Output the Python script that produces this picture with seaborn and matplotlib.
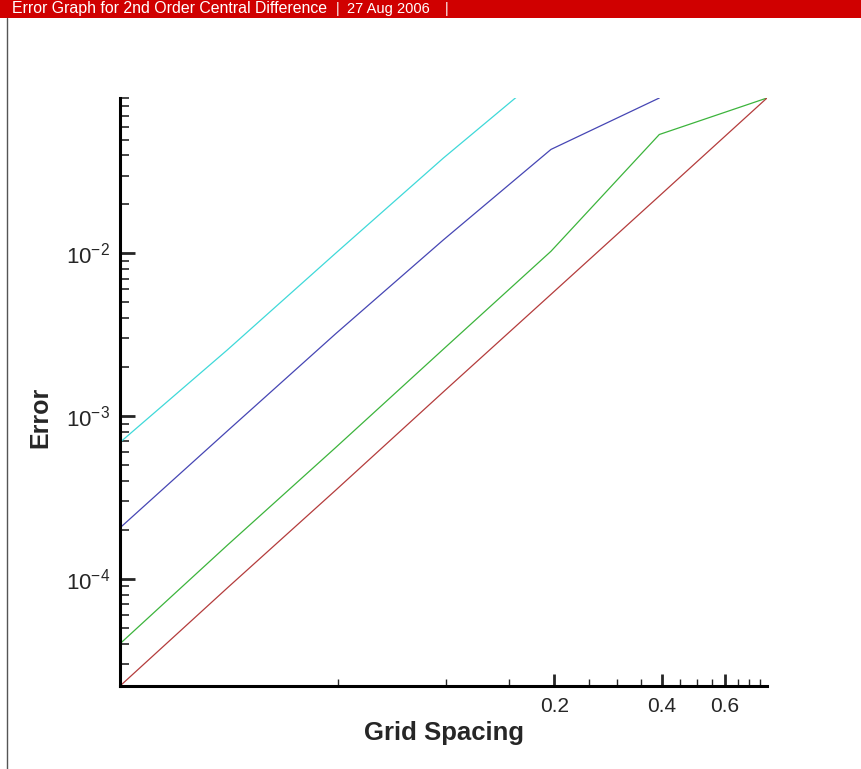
import matplotlib
matplotlib.use("Agg")
import matplotlib.pyplot as plt
import matplotlib.ticker as mticker
from matplotlib.lines import Line2D
from matplotlib.patches import Rectangle
import pandas as pd
import seaborn as sns

# Grid spacing (h) and error values
grid_spacing = [0.0123, 0.0245, 0.0491, 0.0982, 0.196, 0.393, 0.785]
err_red = [2.2e-5, 8.8e-5, 3.5e-4, 1.41e-3, 5.6e-3, 2.25e-2, 9.0e-2]
err_green = [4.0e-5, 1.61e-4, 6.4e-4, 2.58e-3, 1.03e-2, 5.37e-2, 9.0e-2]
err_blue = [2.06e-4, 8.1e-4, 3.2e-3, 1.21e-2, 4.35e-2, 9.0e-2]
err_cyan = [6.9e-4, 2.55e-3, 1.0e-2, 3.85e-2, 1.37e-1]

series = {
    "cyan": (err_cyan, "#3fd9d9"),
    "blue": (err_blue, "#4646b4"),
    "green": (err_green, "#3cb43c"),
    "red": (err_red, "#b43c3c"),
}

x_major = [0.2, 0.4, 0.6]
x_minor = [0.05, 0.1, 0.15, 0.25, 0.3, 0.35, 0.45, 0.5, 0.55, 0.65, 0.7, 0.75]

title_text = "Error Graph for 2nd Order Central Difference"
date_text = "27 Aug 2006"

sns.set_style("white")
plt.rcParams["font.family"] = ["Liberation Sans", "DejaVu Sans"]
plt.rcParams["mathtext.default"] = "regular"

fig = plt.figure(figsize=(8.61, 7.69), dpi=100)
ax = fig.add_axes([120 / 861, 1 - 686 / 769, 647 / 861, 588 / 769])

for name, (vals, color) in series.items():
    df = pd.DataFrame({"h": grid_spacing[:len(vals)], "err": vals})
    sns.lineplot(data=df, x="h", y="err", color=color, linewidth=0.9,
                 estimator=None, ax=ax)

ax.set_xscale("log")
ax.set_yscale("log")
ax.set_xlim(grid_spacing[0], grid_spacing[-1])
ax.set_ylim(err_red[0], err_red[-1])

ax.xaxis.set_major_locator(mticker.FixedLocator(x_major))
ax.xaxis.set_major_formatter(mticker.FixedFormatter([str(v) for v in x_major]))
ax.xaxis.set_minor_locator(mticker.FixedLocator(x_minor))
ax.xaxis.set_minor_formatter(mticker.NullFormatter())
ax.yaxis.set_major_locator(mticker.LogLocator(base=10))
ax.yaxis.set_minor_locator(mticker.LogLocator(base=10, subs=range(2, 10)))
ax.yaxis.set_minor_formatter(mticker.NullFormatter())

for side in ["top", "right"]:
    ax.spines[side].set_visible(False)
for side in ["left", "bottom"]:
    ax.spines[side].set_linewidth(2.2)
    ax.spines[side].set_color("black")

ax.tick_params(axis="y", which="major", direction="in", length=11, width=2,
               labelsize=16, pad=7, left=True)
ax.tick_params(axis="y", which="minor", direction="in", length=6.5, width=1.2, left=True)
ax.tick_params(axis="x", which="major", direction="in", length=8.5, width=2,
               labelsize=15, pad=8, bottom=True)
ax.tick_params(axis="x", which="minor", direction="in", length=5, width=1, bottom=True)

ax.set_xlabel("Grid Spacing", fontsize=18.5, fontweight="bold")
ax.set_ylabel("Error", fontsize=18, fontweight="bold")
ax.xaxis.set_label_coords(0.5, -0.06)
ax.yaxis.set_label_coords(-0.105, 0.456)

# header banner
fig.add_artist(Rectangle((0, 1 - 18 / 769), 1, 18 / 769, transform=fig.transFigure,
                         facecolor="#d00000", edgecolor="none"))
banner_y = 1 - 9 / 769
fig.text(12 / 861, banner_y, title_text, color="white", fontsize=11.4,
         va="center", ha="left")
fig.text(338 / 861, banner_y, "|", color="white", fontsize=10, va="center", ha="center")
fig.text(347 / 861, banner_y, date_text, color="white", fontsize=10.5,
         va="center", ha="left")
fig.text(447 / 861, banner_y, "|", color="white", fontsize=10, va="center", ha="center")
fig.add_artist(Line2D([7 / 861, 7 / 861], [0, 1 - 18 / 769], transform=fig.transFigure,
                      color="#555555", linewidth=1))

fig.savefig("out.png", dpi=100)
